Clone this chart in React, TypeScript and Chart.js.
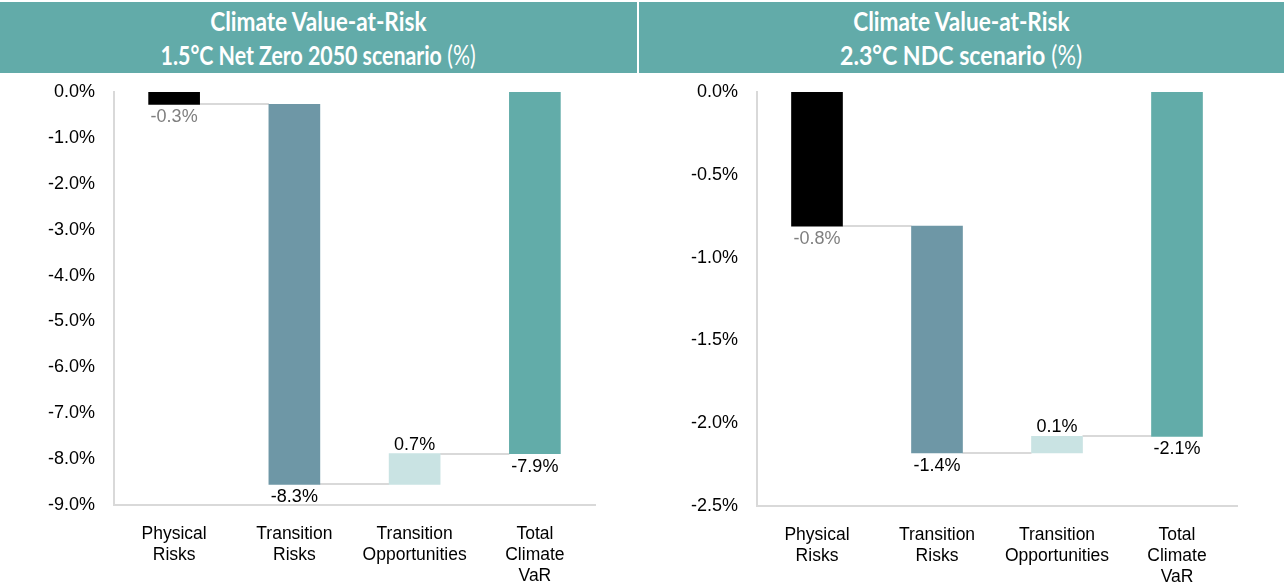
import React, { useEffect, useRef } from "react";
import { Chart, registerables } from "chart.js";

Chart.register(...registerables);

const categories: string[][] = [
  ["Physical", "Risks"],
  ["Transition", "Risks"],
  ["Transition", "Opportunities"],
  ["Total", "Climate", "VaR"],
];

// Left: 1.5°C Net Zero 2050 scenario (%)
const nzPhysical = -0.27;
const nzTransitionRisks = -8.28;
const nzTransitionOpps = 0.67;
const nzTotal = -7.88;
const nzLabels = ["-0.3%", "-8.3%", "0.7%", "-7.9%"];
const nzTicks = { min: -9, max: 0, step: 1 };

// Right: 2.3°C NDC scenario (%)
const ndcPhysical = -0.81;
const ndcTransitionRisks = -1.37;
const ndcTransitionOpps = 0.1;
const ndcTotal = -2.08;
const ndcLabels = ["-0.8%", "-1.4%", "0.1%", "-2.1%"];
const ndcTicks = { min: -2.5, max: 0, step: 0.5 };

const barColors = ["#000000", "#6E97A6", "#C9E3E3", "#62ACA9"];
const labelColors = ["#7F7F7F", "#000000", "#000000", "#000000"];
const HEADER = "#62ABA9";
const FONT = "'Liberation Sans', Arial, sans-serif";

function buildRanges(p: number, t: number, o: number, total: number): [number, number][] {
  const a = p;
  const b = a + t;
  const c = b + o;
  return [
    [0, a],
    [a, b],
    [b, c],
    [0, total],
  ];
}

function WaterfallChart(props: {
  ranges: [number, number][];
  values: number[];
  labels: string[];
  ticks: { min: number; max: number; step: number };
  yWidth: number;
  xHeight: number;
  padRight: number;
  width: number;
  height: number;
}) {
  const ref = useRef<HTMLCanvasElement | null>(null);
  useEffect(() => {
    if (!ref.current) return;
    const { ranges, values, labels, ticks } = props;
    const waterfallPlugin = {
      id: "waterfall",
      beforeDatasetsDraw(chart: any) {
        const meta = chart.getDatasetMeta(0);
        const y = chart.scales.y;
        const ctx = chart.ctx;
        ctx.save();
        ctx.strokeStyle = "#D9D9D9";
        ctx.lineWidth = 2;
        for (let i = 0; i < 3; i++) {
          const a = meta.data[i];
          const b = meta.data[i + 1];
          const level = ranges[i][1];
          const py = Math.round(y.getPixelForValue(level));
          ctx.beginPath();
          ctx.moveTo(a.x + a.width / 2, py);
          ctx.lineTo(b.x - b.width / 2, py);
          ctx.stroke();
        }
        ctx.restore();
      },
      afterDatasetsDraw(chart: any) {
        const meta = chart.getDatasetMeta(0);
        const y = chart.scales.y;
        const ctx = chart.ctx;
        ctx.save();
        ctx.font = `18px ${FONT}`;
        ctx.textAlign = "center";
        meta.data.forEach((el: any, i: number) => {
          const [s, e] = ranges[i];
          ctx.fillStyle = labelColors[i];
          if (values[i] < 0) {
            ctx.textBaseline = "top";
            ctx.fillText(labels[i], el.x, y.getPixelForValue(Math.min(s, e)) + 4);
          } else {
            ctx.textBaseline = "bottom";
            ctx.fillText(labels[i], el.x, y.getPixelForValue(Math.max(s, e)));
          }
        });
        ctx.restore();
      },
    };
    const chart = new Chart(ref.current, {
      type: "bar",
      data: {
        labels: categories,
        datasets: [
          {
            data: ranges as any,
            backgroundColor: barColors,
            borderWidth: 0,
            borderSkipped: false,
            barThickness: 51,
          },
        ],
      },
      options: {
        animation: false,
        responsive: false,
        devicePixelRatio: 1,
        layout: { padding: { left: 0, right: props.padRight, top: 18, bottom: 0 } },
        plugins: {
          legend: { display: false },
          title: { display: false },
          tooltip: { enabled: false },
        },
        scales: {
          x: {
            grid: { display: false, drawTicks: false },
            border: { display: true, color: "#D9D9D9", width: 2 },
            ticks: {
              color: "#000000",
              font: { family: FONT, size: 17.5, lineHeight: 21 / 17.5 },
              padding: 19,
              maxRotation: 0,
              autoSkip: false,
            },
            afterFit: (s: any) => {
              s.height = props.xHeight;
            },
          },
          y: {
            min: ticks.min,
            max: ticks.max,
            grid: { display: false, drawTicks: true, tickLength: 19 },
            border: { display: true, color: "#D9D9D9", width: 2 },
            ticks: {
              stepSize: ticks.step,
              color: "#000000",
              font: { family: FONT, size: 18 },
              padding: 0,
              callback: (v: any) => `${Number(v).toFixed(1)}%`,
            },
            afterFit: (s: any) => {
              s.width = props.yWidth;
            },
          },
        },
      },
      plugins: [waterfallPlugin],
    });
    return () => chart.destroy();
  }, []);
  return <canvas ref={ref} width={props.width} height={props.height} style={{ display: "block", width: props.width, height: props.height }} />;
}

function Header(props: { bold: string; left: number; width: number; scale1: number; scale2: number }) {
  const lineStyle: React.CSSProperties = {
    position: "absolute",
    left: 0,
    width: "100%",
    textAlign: "center",
    color: "#FFFFFF",
    fontFamily: "Lato, 'Open Sans', sans-serif",
    fontSize: 26,
    lineHeight: "34px",
    whiteSpace: "nowrap",
  };
  const inner1: React.CSSProperties = { display: "inline-block", transform: `scaleX(${props.scale1})`, transformOrigin: "center" };
  const inner2: React.CSSProperties = { display: "inline-block", transform: `scaleX(${props.scale2})`, transformOrigin: "center" };
  return (
    <div
      style={{
        position: "absolute",
        left: props.left,
        top: 2,
        width: props.width,
        height: 71,
        background: HEADER,
      }}
    >
      <div style={{ ...lineStyle, top: 2 }}>
        <span style={{ ...inner1, fontWeight: 700 }}>Climate Value-at-Risk</span>
      </div>
      <div style={{ ...lineStyle, top: 36 }}>
        <span style={inner2}>
          <b style={{ fontWeight: 700 }}>{props.bold}</b> <span style={{ fontWeight: 400 }}>(%)</span>
        </span>
      </div>
    </div>
  );
}

export default function App() {
  const nzRanges = buildRanges(nzPhysical, nzTransitionRisks, nzTransitionOpps, nzTotal);
  const ndcRanges = buildRanges(ndcPhysical, ndcTransitionRisks, ndcTransitionOpps, ndcTotal);
  return (
    <div style={{ position: "absolute", left: 0, top: 0, width: 1284, height: 585, background: "#FFFFFF", overflow: "hidden" }}>
      <Header bold="1.5°C Net Zero 2050 scenario" left={0} width={637} scale1={0.87} scale2={0.82} />
      <Header bold="2.3°C NDC scenario" left={639} width={645} scale1={0.87} scale2={0.89} />
      <div style={{ position: "absolute", left: 0, top: 74 }}>
        <WaterfallChart
          ranges={nzRanges}
          values={[nzPhysical, nzTransitionRisks, nzTransitionOpps, nzTotal]}
          labels={nzLabels}
          ticks={nzTicks}
          yWidth={114}
          xHeight={80}
          padRight={42}
          width={637}
          height={511}
        />
      </div>
      <div style={{ position: "absolute", left: 639, top: 74 }}>
        <WaterfallChart
          ranges={ndcRanges}
          values={[ndcPhysical, ndcTransitionRisks, ndcTransitionOpps, ndcTotal]}
          labels={ndcLabels}
          ticks={ndcTicks}
          yWidth={118}
          xHeight={79}
          padRight={47}
          width={645}
          height={511}
        />
      </div>
    </div>
  );
}
